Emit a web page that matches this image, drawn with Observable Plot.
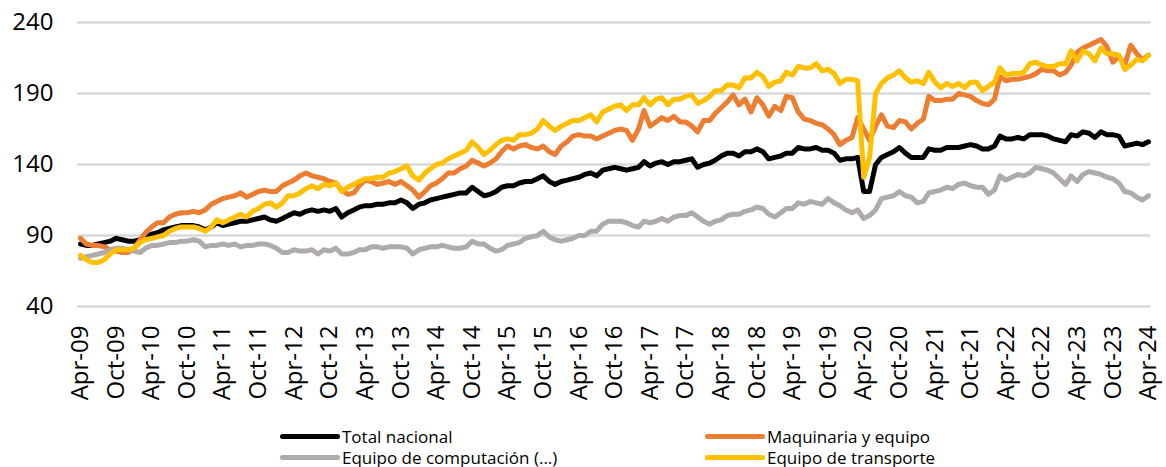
<!DOCTYPE html>
<html>
<head>
<meta charset="utf-8">
<script src="https://cdn.jsdelivr.net/npm/d3@7"></script>
<script src="https://cdn.jsdelivr.net/npm/@observablehq/plot@0.6"></script>
<style>
  html, body { margin: 0; padding: 0; background: #fff; }
  #chart { position: relative; width: 1166px; height: 467px; font-family: "Open Sans", sans-serif; }
  #chart svg { position: absolute; left: 0; top: 0; }
  .leg { position: absolute; display: flex; align-items: center; height: 20px; font-size: 17px; color: #000; white-space: nowrap; }
  .sw { display: inline-block; width: 60px; height: 5px; border-radius: 3px; margin-right: 2px; }
</style>
</head>
<body>
<div id="chart"></div>
<script>
// Series names (legend order)
const seriesNames = ["Total nacional", "Maquinaria y equipo", "Equipo de computación (...)", "Equipo de transporte"];
const seriesColors = ["#000000", "#ED7D31", "#AFABAB", "#FFC000"];

// First month of the series: April 2009; monthly through April 2024
const firstYear = 2009, firstMonthIndex = 3;

const totalNacional = [
  84, 83, 83, 84, 85, 86, 88, 87, 86, 86,
  87, 89, 91, 92, 94, 95, 96, 97, 97, 97,
  96, 94, 96, 99, 97, 98, 99, 100, 100, 101,
  102, 103, 101, 100, 102, 104, 106, 105, 107, 108,
  107, 108, 107, 109, 103, 106, 108, 110, 111, 111,
  112, 112, 113, 113, 115, 113, 109, 112, 113, 115,
  116, 117, 118, 119, 120, 120, 124, 121, 118, 119,
  121, 124, 125, 125, 127, 128, 128, 130, 132, 128,
  126, 128, 129, 130, 131, 133, 134, 132, 136, 137,
  138, 137, 136, 137, 138, 142, 139, 141, 142, 140,
  142, 142, 143, 144, 138, 140, 141, 143, 146, 148,
  148, 146, 149, 149, 151, 149, 144, 145, 146, 148,
  148, 152, 151, 151, 152, 150, 150, 148, 143, 144,
  144, 145, 121, 121, 140, 145, 147, 149, 152, 148,
  145, 145, 145, 151, 150, 150, 152, 152, 152, 153,
  154, 153, 151, 151, 153, 160, 158, 158, 159, 158,
  161, 161, 161, 160, 158, 157, 156, 161, 160, 163,
  162, 159, 163, 161, 161, 160, 153, 154, 155, 154, 156
];

const maquinariaEquipo = [
  88, 84, 83, 83, 82, 80, 79, 78, 78, 81,
  87, 92, 96, 99, 99, 103, 105, 106, 106, 107,
  106, 108, 112, 114, 116, 117, 118, 120, 117, 119,
  121, 122, 121, 121, 125, 127, 129, 132, 134, 132,
  131, 130, 128, 127, 122, 119, 120, 125, 129, 128,
  126, 127, 128, 126, 128, 125, 122, 117, 121, 125,
  127, 130, 134, 134, 137, 139, 143, 141, 139, 141,
  144, 149, 153, 151, 153, 154, 152, 151, 153, 149,
  147, 153, 156, 160, 161, 160, 160, 158, 160, 162,
  164, 165, 164, 157, 165, 178, 167, 170, 173, 171,
  174, 170, 170, 167, 163, 171, 171, 176, 180, 184,
  189, 182, 186, 177, 187, 182, 174, 181, 178, 188,
  187, 177, 172, 171, 169, 168, 165, 161, 154, 157,
  159, 173, 165, 157, 167, 175, 167, 166, 171, 170,
  165, 169, 172, 188, 185, 185, 186, 186, 190, 189,
  188, 185, 183, 182, 186, 202, 199, 200, 200, 201,
  202, 204, 207, 206, 206, 203, 205, 210, 219, 222,
  224, 226, 228, 223, 212, 216, 210, 224, 218, 214, 217
];

const equipoComputacion = [
  74, 75, 76, 77, 78, 80, 81, 81, 80, 79,
  78, 81, 83, 83, 84, 85, 85, 86, 86, 87,
  86, 82, 83, 83, 84, 83, 84, 82, 83, 83,
  84, 84, 83, 81, 78, 78, 80, 79, 79, 80,
  77, 80, 79, 81, 77, 77, 78, 80, 80, 82,
  82, 81, 82, 82, 82, 81, 77, 80, 81, 82,
  82, 83, 82, 81, 81, 82, 86, 84, 84, 81,
  79, 80, 83, 84, 85, 88, 89, 90, 93, 89,
  87, 86, 87, 88, 90, 90, 93, 93, 98, 100,
  100, 100, 99, 97, 96, 100, 99, 100, 102, 100,
  103, 104, 104, 106, 103, 100, 98, 100, 101, 104,
  105, 105, 107, 108, 110, 109, 105, 103, 106, 109,
  109, 113, 112, 114, 113, 112, 116, 113, 111, 108,
  106, 108, 102, 104, 108, 116, 117, 118, 121, 118,
  117, 113, 114, 120, 121, 122, 124, 123, 126, 127,
  125, 124, 124, 119, 122, 132, 129, 131, 133, 132,
  134, 138, 137, 136, 134, 130, 126, 132, 128, 133,
  135, 134, 133, 131, 130, 127, 121, 120, 117, 115, 118
];

const equipoTransporte = [
  76, 73, 71, 71, 73, 77, 80, 80, 80, 81,
  85, 87, 88, 89, 90, 93, 95, 96, 96, 96,
  95, 93, 96, 101, 99, 101, 103, 105, 103, 107,
  109, 112, 113, 110, 113, 118, 118, 120, 123, 125,
  123, 126, 125, 127, 121, 124, 126, 128, 130, 130,
  131, 131, 134, 135, 137, 139, 132, 129, 134, 137,
  140, 141, 144, 146, 148, 150, 156, 152, 147, 150,
  154, 157, 158, 157, 161, 161, 162, 165, 171, 167,
  164, 167, 169, 171, 171, 173, 175, 170, 177, 179,
  181, 182, 178, 182, 182, 187, 182, 186, 187, 182,
  186, 186, 188, 189, 183, 185, 188, 192, 192, 196,
  196, 194, 201, 201, 205, 202, 195, 198, 199, 205,
  203, 209, 208, 208, 211, 206, 207, 204, 197, 200,
  200, 199, 131, 145, 190, 197, 201, 203, 206, 201,
  198, 199, 197, 205, 198, 194, 197, 195, 197, 194,
  198, 198, 192, 195, 198, 208, 203, 204, 204, 205,
  211, 212, 210, 209, 209, 211, 211, 220, 213, 220,
  218, 213, 222, 218, 218, 217, 207, 210, 214, 213, 217
];

const yTicks = [40, 90, 140, 190, 240];
const xTickEveryMonths = 6;

// Build table
const seriesValues = [totalNacional, maquinariaEquipo, equipoComputacion, equipoTransporte];
const months = totalNacional.map((_, i) => new Date(Date.UTC(firstYear, firstMonthIndex + i, 1)));
const rows = [];
seriesValues.forEach((arr, s) => arr.forEach((v, i) => rows.push({date: months[i], value: v, series: seriesNames[s]})));
const xTicks = months.filter((_, i) => i % xTickEveryMonths === 0);
const fmt = d3.utcFormat("%b-%y");

const plot = Plot.plot({
  width: 1166,
  height: 415,
  marginLeft: 77,
  marginRight: 16,
  marginTop: 22,
  marginBottom: 109,
  style: {fontFamily: "Open Sans, sans-serif", fontSize: "24px", color: "#000", background: "#fff", overflow: "visible"},
  x: {type: "utc", domain: [months[0], months[months.length - 1]], insetLeft: 3, insetRight: 2},
  y: {domain: [40, 240]},
  color: {domain: seriesNames, range: seriesColors},
  marks: [
    Plot.ruleY(yTicks, {stroke: "#d9d9d9", strokeWidth: 2.5}),
    Plot.axisY({ticks: yTicks, tickSize: 0, tickPadding: 24, label: null, fontSize: 24}),
    Plot.axisX({ticks: xTicks, tickFormat: fmt, tickRotate: -90, tickSize: 0, tickPadding: 19, label: null, fontSize: 24}),
    Plot.lineY(rows, {x: "date", y: "value", z: "series", stroke: "series", strokeWidth: 5, strokeLinejoin: "round", strokeLinecap: "round"})
  ]
});

const chart = document.getElementById("chart");
chart.appendChild(plot);

// Legend (HTML, below the SVG)
const legendPos = [[280, 426], [705, 426], [280, 447], [705, 447]];
seriesNames.forEach((name, i) => {
  const item = document.createElement("div");
  item.className = "leg";
  item.style.left = legendPos[i][0] + "px";
  item.style.top = legendPos[i][1] + "px";
  const sw = document.createElement("span");
  sw.className = "sw";
  sw.style.background = seriesColors[i];
  const t = document.createElement("span");
  t.textContent = name;
  item.appendChild(sw);
  item.appendChild(t);
  chart.appendChild(item);
});
</script>
</body>
</html>
